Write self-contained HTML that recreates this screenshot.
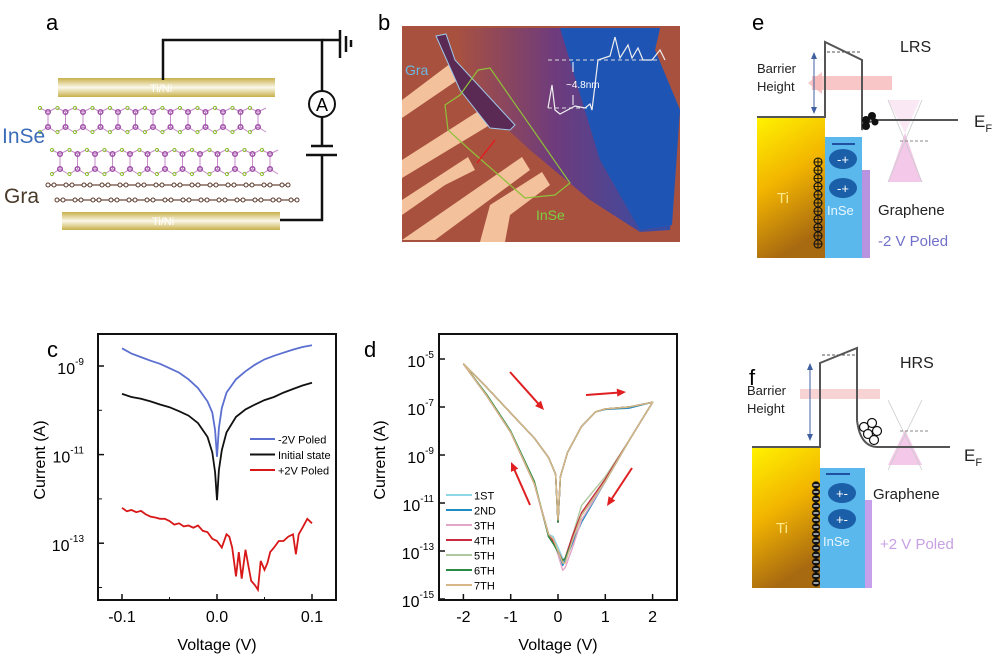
<!DOCTYPE html>
<html><head><meta charset="utf-8"><style>
html,body{margin:0;padding:0;background:#fff}
svg{display:block;font-family:"Liberation Sans",sans-serif}
</style></head><body>
<svg id="fig" width="1000" height="661" viewBox="0 0 1000 661">
<defs>
<linearGradient id="gold" x1="0" y1="0" x2="0" y2="1"><stop offset="0" stop-color="#c8b04a"/><stop offset="0.5" stop-color="#fbf8ea"/><stop offset="1" stop-color="#c8b04a"/></linearGradient>
<linearGradient id="ti" x1="0" y1="0" x2="0.3" y2="1"><stop offset="0" stop-color="#fff200"/><stop offset="0.5" stop-color="#f2b400"/><stop offset="1" stop-color="#a86a10"/></linearGradient>
<linearGradient id="sub" x1="0" y1="0" x2="1" y2="0"><stop offset="0" stop-color="#a9513f"/><stop offset="0.45" stop-color="#6a3a80"/><stop offset="1" stop-color="#2850b0"/></linearGradient>
</defs>

<!-- Panel a -->
<g>
<text x="46" y="30" font-size="22">a</text>
<rect x="58" y="78" width="217" height="19" fill="url(#gold)"/>
<text x="150" y="92" font-size="11" fill="#fff">Ti/Ni</text>
<rect x="62" y="212" width="218" height="18" fill="url(#gold)"/>
<text x="152" y="225" font-size="11" fill="#fff">Ti/Ni</text>
<g id="inse"></g>
<text x="2" y="143" font-size="21" fill="#3c6db8">InSe</text>
<text x="4" y="203" font-size="21" fill="#4a3a2a">Gra</text>
<path d="M163 80 V40 H322 V92 M322 117 V146 M322 155 V220 H280" stroke="#111" stroke-width="2.5" fill="none"/>
<path d="M340 30 V58 M346 36 V52 M351 40 V47" stroke="#111" stroke-width="2.5"/>
<line x1="322" y1="40" x2="340" y2="40" stroke="#111" stroke-width="2.5"/>
<circle cx="322" cy="104" r="13" fill="#fff" stroke="#111" stroke-width="2"/>
<text x="322" y="111" font-size="18" text-anchor="middle">A</text>
<path d="M311 146 H333 M306 155 H337" stroke="#111" stroke-width="2.5"/>
</g>

<!-- Panel b -->
<g>
<text x="378" y="30" font-size="22">b</text>
<rect x="402" y="26" width="278" height="216" fill="#a9513f"/>
<polygon points="455,28 660,28 655,50 680,110 670,230 640,232 590,200 530,150 470,95" fill="url(#sub)" opacity="0.95"/>
<polygon points="560,28 660,28 655,50 680,110 672,225 640,230 600,160" fill="#1e55b5"/>
<g fill="#f3c29c">
<polygon points="402,100 455,60 465,75 402,118"/>
<polygon points="402,160 488,105 498,120 402,178"/>
<polygon points="402,240 435,240 530,170 522,157"/>
<polygon points="480,242 505,242 510,215 550,185 542,172 490,205"/>
<polygon points="402,200 402,215 445,185 475,170 468,157"/>
</g>
<path d="M436 36 L446 34 L455 60 L515 125 L510 130 L490 128 L460 90 Z" fill="#5a2a55" stroke="#9ec8ec" stroke-width="1"/>
<path d="M478 70 L490 68 L570 183 L555 195 L525 198 L470 150 L448 130 L445 105 L460 95 Z" fill="none" stroke="#8fc03a" stroke-width="1.2"/>
<line x1="477" y1="163" x2="495" y2="140" stroke="#e02020" stroke-width="1.5"/>
<text x="405" y="75" font-size="14" fill="#6ab8e0">Gra</text>
<text x="536" y="220" font-size="14" fill="#7ad040">InSe</text>
<path d="M548 60 H660 M548 108 H590" stroke="#ddd" stroke-dasharray="4,3" fill="none"/>
<path d="M548 108 L552 85 L555 110 L560 114 L575 106 L585 108 L590 104 L592 110 L598 60 L610 56 L615 37 L620 58 L628 45 L632 58 L638 48 L643 60 L652 60 L660 50 L665 60" stroke="#eee" stroke-width="1.2" fill="none"/>
<path d="M573 62 V72 M573 95 V105" stroke="#fff" stroke-width="1"/>
<text x="566" y="88" font-size="10" fill="#fff">~4.8nm</text>
</g>

<!-- Panel e -->
<g>
<text x="752" y="30" font-size="22">e</text>
<rect x="757" y="118" width="68" height="140" fill="url(#ti)"/>
<rect x="825" y="137" width="37" height="121" fill="#5bb8ec"/>
<rect x="862" y="170" width="8" height="88" fill="#b894e0"/>
<polygon points="888,100 920,100 905,133" fill="#f8e0f0" opacity="0.7"/>
<polygon points="905,133 888,182 922,182" fill="#f3c8e8"/>
<path d="M888 100 L922 182 M922 100 L888 182" stroke="#ccc" stroke-width="0.8"/>
<line x1="900" y1="141" x2="928" y2="141" stroke="#888" stroke-dasharray="3,2"/>
<rect x="812" y="76" width="80" height="14" fill="#f6b8b8" opacity="0.8"/>
<polygon points="808,83 822,72 822,94" fill="#f6b8b8" opacity="0.8"/>
<path d="M757 117 H825 V42 L862 60 V130 Q866 120 880 120 H958" stroke="#555" stroke-width="2" fill="none"/>
<path d="M827 52 H862" stroke="#555" stroke-dasharray="3,2"/>
<path d="M814 55 V111" stroke="#4060a0" stroke-width="1"/>
<polygon points="814,52 811,59 817,59" fill="#4060a0"/><polygon points="814,114 811,107 817,107" fill="#4060a0"/>
<text x="757" y="73" font-size="13" fill="#222">Barrier</text>
<text x="757" y="91" font-size="13" fill="#222">Height</text>
<text x="900" y="52" font-size="16" fill="#222">LRS</text>
<text x="974" y="127" font-size="17" fill="#222">E<tspan font-size="11" dy="5">F</tspan></text>
<g fill="#111"><circle cx="866" cy="120" r="4"/><circle cx="872" cy="116" r="4"/><circle cx="866" cy="126" r="4"/><circle cx="875" cy="122" r="3.5"/></g>
<line x1="832" y1="144" x2="855" y2="144" stroke="#2050a0" stroke-width="2"/>
<g id="eplus"></g>
<ellipse cx="843" cy="159" rx="14" ry="10" fill="#1a5fa8"/><text x="843" y="164" font-size="13" fill="#fff" text-anchor="middle">-+</text>
<ellipse cx="843" cy="188" rx="14" ry="10" fill="#1a5fa8"/><text x="843" y="193" font-size="13" fill="#fff" text-anchor="middle">-+</text>
<text x="777" y="203" font-size="15" fill="#ffe98a">Ti</text>
<text x="827" y="215" font-size="13" fill="#e8f6ff">InSe</text>
<text x="878" y="215" font-size="15" fill="#222">Graphene</text>
<text x="878" y="246" font-size="15" fill="#7070c8">-2 V Poled</text>
</g>

<!-- Panel f -->
<g>
<text x="749" y="385" font-size="22">f</text>
<rect x="752" y="448" width="68" height="140" fill="url(#ti)"/>
<rect x="820" y="468" width="45" height="120" fill="#5bb8ec"/>
<rect x="865" y="500" width="7" height="88" fill="#c7a0ec"/>
<polygon points="888,465 922,465 905,430" fill="#f3c8e8"/>
<path d="M888 400 L922 470 M922 400 L888 470" stroke="#ccc" stroke-width="0.8"/>
<line x1="900" y1="431" x2="930" y2="431" stroke="#888" stroke-dasharray="3,2"/>
<rect x="800" y="389" width="80" height="10" fill="#f6c8c8" opacity="0.8"/>
<path d="M752 447 H820 V363 L857 348 V420 Q860 447 878 447 H950" stroke="#555" stroke-width="2" fill="none"/>
<path d="M822 355 H857" stroke="#555" stroke-dasharray="3,2"/>
<path d="M810 366 V438" stroke="#4060a0" stroke-width="1"/>
<polygon points="810,363 807,370 813,370" fill="#4060a0"/><polygon points="810,441 807,434 813,434" fill="#4060a0"/>
<text x="747" y="395" font-size="13" fill="#222">Barrier</text>
<text x="747" y="413" font-size="13" fill="#222">Height</text>
<text x="900" y="368" font-size="16" fill="#222">HRS</text>
<text x="964" y="461" font-size="17" fill="#222">E<tspan font-size="11" dy="5">F</tspan></text>
<g fill="#fff" stroke="#111" stroke-width="1.2"><circle cx="864" cy="427" r="4.5"/><circle cx="872" cy="423" r="4.5"/><circle cx="868" cy="434" r="4.5"/><circle cx="877" cy="431" r="4.5"/><circle cx="874" cy="440" r="4.5"/></g>
<line x1="826" y1="474" x2="850" y2="474" stroke="#2050a0" stroke-width="2"/>
<g id="fminus"></g>
<ellipse cx="842" cy="493" rx="14" ry="10" fill="#1a5fa8"/><text x="842" y="498" font-size="13" fill="#fff" text-anchor="middle">+-</text>
<ellipse cx="842" cy="519" rx="14" ry="10" fill="#1a5fa8"/><text x="842" y="524" font-size="13" fill="#fff" text-anchor="middle">+-</text>
<text x="776" y="533" font-size="15" fill="#ffe98a">Ti</text>
<text x="823" y="546" font-size="13" fill="#e8f6ff">InSe</text>
<text x="873" y="499" font-size="15" fill="#222">Graphene</text>
<text x="880" y="549" font-size="15" fill="#c8a0e4">+2 V Poled</text>
</g>

<!-- Panel c -->
<g id="pc">
<text x="47" y="357" font-size="22">c</text>
<text transform="translate(45,460) rotate(-90)" font-size="16" text-anchor="middle">Current (A)</text>
<text x="217" y="650" font-size="16" text-anchor="middle">Voltage (V)</text>
</g>
<!-- Panel d -->
<g id="pd">
<text x="364" y="357" font-size="22">d</text>
<text transform="translate(385,460) rotate(-90)" font-size="16" text-anchor="middle">Current (A)</text>
<text x="558" y="650" font-size="16" text-anchor="middle">Voltage (V)</text>
</g>
</svg>
<script>
// ---- Panel c data (log10 current) ----
const cV = [-0.1,-0.09,-0.08,-0.07,-0.06,-0.05,-0.04,-0.03,-0.02,-0.01,-0.005,-0.002,0,0.002,0.005,0.01,0.02,0.03,0.04,0.05,0.06,0.07,0.08,0.09,0.1];
const cBlue = [-8.6,-8.72,-8.8,-8.88,-8.95,-9.05,-9.15,-9.3,-9.5,-9.8,-10.05,-10.45,-11.05,-10.4,-9.95,-9.6,-9.3,-9.12,-8.97,-8.85,-8.77,-8.7,-8.63,-8.57,-8.53];
const cBlack = [-9.63,-9.7,-9.74,-9.8,-9.87,-9.93,-10.02,-10.12,-10.29,-10.6,-10.95,-11.4,-12.03,-11.35,-10.9,-10.5,-10.15,-9.98,-9.87,-9.77,-9.7,-9.6,-9.52,-9.44,-9.38];
const cRedV = [-0.1,-0.095,-0.09,-0.085,-0.08,-0.075,-0.07,-0.065,-0.06,-0.055,-0.05,-0.045,-0.04,-0.035,-0.03,-0.025,-0.02,-0.015,-0.01,-0.005,0,0.005,0.01,0.013,0.016,0.02,0.023,0.026,0.03,0.033,0.036,0.04,0.043,0.046,0.05,0.053,0.056,0.06,0.065,0.07,0.075,0.08,0.083,0.086,0.09,0.095,0.1];
const cRed = [-12.2,-12.28,-12.25,-12.3,-12.27,-12.35,-12.4,-12.42,-12.45,-12.45,-12.5,-12.58,-12.55,-12.62,-12.6,-12.65,-12.6,-12.72,-12.75,-12.9,-12.95,-13.1,-12.8,-12.85,-13.1,-13.75,-13.2,-13.8,-13.15,-13.5,-13.85,-13.95,-14.05,-13.4,-13.6,-13.45,-13.2,-13.1,-12.95,-12.95,-12.85,-12.8,-13.25,-12.8,-12.65,-12.45,-12.55];
const cYTicks = [-9,-11,-13];
const cXTicks = [-0.1,0,0.1];
const cXTickLabels = ["-0.1","0.0","0.1"];
const cLegend = ["-2V Poled","Initial state","+2V Poled"];
// ---- Panel d data (log10 current), loop: -2 -> 0 -> 2 -> 0 -> -2 ----
const dV = [-2,-1.5,-1,-0.5,-0.2,-0.05,0,0.05,0.2,0.5,0.8,1,1.5,2,1.5,1,0.5,0.3,0.15,0.1,-0.1,-0.2,-0.5,-1,-1.5,-2];
const d1 = [-5.2,-6.2,-7.25,-8.3,-9.1,-9.8,-11.8,-9.9,-8.9,-7.8,-7.2,-7.08,-7.0,-6.8,-8.4,-10.1,-11.5,-12.5,-13.5,-13.3,-12.4,-12.3,-10.2,-8.05,-6.55,-5.2];
const d2 = [-5.2,-6.2,-7.25,-8.3,-9.1,-9.8,-11.8,-9.9,-8.9,-7.8,-7.2,-7.1,-7.05,-6.8,-8.4,-10.1,-11.8,-12.7,-13.4,-13.6,-12.5,-12.3,-10.2,-8.05,-6.55,-5.2];
const d3 = [-5.2,-6.2,-7.25,-8.3,-9.1,-9.8,-11.7,-9.9,-8.9,-7.8,-7.2,-7.08,-7.0,-6.8,-8.4,-10.1,-11.7,-12.9,-13.7,-13.8,-12.5,-12.4,-10.2,-8.05,-6.55,-5.2];
const d4 = [-5.2,-6.2,-7.25,-8.3,-9.1,-9.8,-11.8,-9.9,-8.9,-7.8,-7.2,-7.08,-7.0,-6.8,-8.4,-10.0,-11.4,-12.4,-13.3,-13.4,-12.6,-12.3,-10.2,-8.05,-6.55,-5.2];
const d5 = [-5.2,-6.2,-7.25,-8.3,-9.1,-9.8,-11.8,-9.9,-8.9,-7.8,-7.2,-7.08,-7.0,-6.8,-8.4,-9.9,-11.1,-12.4,-13.4,-13.5,-12.5,-12.3,-10.2,-8.05,-6.55,-5.2];
const d6 = [-5.2,-6.2,-7.25,-8.3,-9.1,-9.8,-11.8,-9.9,-8.9,-7.8,-7.2,-7.08,-7.0,-6.8,-8.4,-10.1,-11.5,-12.6,-13.3,-13.4,-12.7,-12.4,-10.1,-8.0,-6.5,-5.2];
const d7 = [-5.2,-6.2,-7.25,-8.3,-9.1,-9.8,-11.7,-9.9,-8.9,-7.8,-7.2,-7.08,-7.0,-6.8,-8.4,-10.1,-11.5,-12.6,-13.5,-13.5,-12.5,-12.3,-10.2,-8.05,-6.55,-5.2];
const dLegend = ["1ST","2ND","3TH","4TH","5TH","6TH","7TH"];
const dYTicks = [-5,-7,-9,-11,-13,-15];
const dXTicks = [-2,-1,0,1,2];

const NS = "http://www.w3.org/2000/svg";
function mk(tag, attrs, parent){const e=document.createElementNS(NS,tag);for(const k in attrs)e.setAttribute(k,attrs[k]);parent.appendChild(e);return e;}

// Panel c
const pc = document.getElementById('pc');
const cx = v => 217 + v*950;
const cy = l => 366 + (-9 - l)*44.3;
let frame = mk('rect',{x:98,y:334,width:238,height:266,fill:'none',stroke:'#111','stroke-width':2},pc);


cXTicks.forEach((t,i)=>{
  mk('line',{x1:cx(t),y1:600,x2:cx(t),y2:594,stroke:'#111','stroke-width':1.5},pc);
  const tx = mk('text',{x:cx(t),y:622,'font-size':16,'text-anchor':'middle'},pc);
  tx.textContent = cXTickLabels[i];
  
  
});
[-0.05,0.05].forEach(t=>mk('line',{x1:cx(t),y1:600,x2:cx(t),y2:597,stroke:'#111'},pc));
cYTicks.forEach(t=>{
  mk('line',{x1:98,y1:cy(t),x2:104,y2:cy(t),stroke:'#111','stroke-width':1.5},pc);
  const tx = mk('text',{x:84,y:cy(t)+8,'font-size':16,'text-anchor':'end'},pc);
  tx.innerHTML = '10<tspan font-size="10" dy="-9">'+t+'</tspan>';
  
  
});
[-10,-12,-14].forEach(t=>mk('line',{x1:98,y1:cy(t),x2:102,y2:cy(t),stroke:'#111'},pc));
function cline(xs, ys, color, name){
  const d = xs.map((v,i)=>(i?'L':'M')+cx(v).toFixed(1)+' '+cy(ys[i]).toFixed(1)).join(' ');
  const p = mk('path',{d:d,fill:'none',stroke:color,'stroke-width':1.8},pc);
  
  
}
cline(cV,cBlue,'#5b6fd0','series-minus2v-poled');
cline(cV,cBlack,'#111','series-initial-state');
cline(cRedV,cRed,'#d81818','series-plus2v-poled');
const cCols = ['#5b6fd0','#111','#d81818'];
cLegend.forEach((n,i)=>{
  const y = 439 + i*15.5;
  mk('line',{x1:250,y1:y,x2:275,y2:y,stroke:cCols[i],'stroke-width':2},pc);
  const tx = mk('text',{x:278,y:y+4.5,'font-size':11},pc);
  tx.textContent = n;
  
  
});

// Panel d
const pd = document.getElementById('pd');
const dx = v => 558 + v*47.3;
const dy = l => 359 + (-5 - l)*24;
let fr2 = mk('rect',{x:439,y:334,width:238,height:266,fill:'none',stroke:'#111','stroke-width':2},pd);


dXTicks.forEach(t=>{
  mk('line',{x1:dx(t),y1:600,x2:dx(t),y2:594,stroke:'#111','stroke-width':1.5},pd);
  const tx = mk('text',{x:dx(t),y:622,'font-size':16,'text-anchor':'middle'},pd);
  tx.textContent = String(t);
  
  
});
dYTicks.forEach(t=>{
  mk('line',{x1:439,y1:dy(t),x2:445,y2:dy(t),stroke:'#111','stroke-width':1.5},pd);
  const tx = mk('text',{x:434,y:dy(t)+8,'font-size':16,'text-anchor':'end'},pd);
  tx.innerHTML = '10<tspan font-size="10" dy="-9">'+t+'</tspan>';
  
  
});
const dSeries = [d1,d2,d3,d4,d5,d6,d7];
const dCols = ['#8fd6e6','#1f8cc4','#e4a6c8','#c82a40','#b0c8a0','#2a8a44','#d8b888'];
[4,0,1,2,3,5,6].forEach(i=>{
  const d = dV.map((v,j)=>(j?'L':'M')+dx(v).toFixed(1)+' '+dy(dSeries[i][j]).toFixed(1)).join(' ');
  const p = mk('path',{d:d,fill:'none',stroke:dCols[i],'stroke-width':1.4,'stroke-linejoin':'round'},pd);
  
  
});
dLegend.forEach((n,i)=>{
  const y = 495 + i*15;
  mk('line',{x1:446,y1:y,x2:472,y2:y,stroke:dCols[i],'stroke-width':2},pd);
  const tx = mk('text',{x:474,y:y+4.5,'font-size':11},pd);
  tx.textContent = n;
  
  
});
[[510,372,544,410],[586,395,626,392],[530,505,511,462],[632,468,607,506]].forEach(a=>{
  const ang = Math.atan2(a[3]-a[1],a[2]-a[0]);
  mk('line',{x1:a[0],y1:a[1],x2:a[2]-6*Math.cos(ang),y2:a[3]-6*Math.sin(ang),stroke:'#e02020','stroke-width':2},pd);
  const h = mk('polygon',{points:[a[2],a[3],a[2]-9*Math.cos(ang)+4*Math.sin(ang),a[3]-9*Math.sin(ang)-4*Math.cos(ang),a[2]-9*Math.cos(ang)-4*Math.sin(ang),a[3]-9*Math.sin(ang)+4*Math.cos(ang)].join(','),fill:'#e02020'},pd);
  
  
});

// decorations: lattice and charges
const lat = document.getElementById('inse');
[[108,48],[150,60]].forEach(r=>{
  const y0 = r[0];
  for(let k=0;k<13;k++){
    const x = r[1]+k*17.5;
    mk('path',{d:`M${x-8} ${y0} L${x} ${y0+4} L${x+8} ${y0} M${x} ${y0+4} V${y0+19} M${x-8} ${y0+24} L${x} ${y0+19} L${x+8} ${y0+24}`,stroke:'#c58ac8','stroke-width':1,fill:'none'},lat);
    mk('circle',{cx:x,cy:y0+4,r:2.3,fill:'none',stroke:'#a050a8','stroke-width':1.5},lat);
    mk('circle',{cx:x,cy:y0+19,r:2.3,fill:'none',stroke:'#a050a8','stroke-width':1.5},lat);
    mk('circle',{cx:x-8,cy:y0,r:1.6,fill:'none',stroke:'#8cc030'},lat);
    mk('circle',{cx:x-8,cy:y0+24,r:1.6,fill:'none',stroke:'#8cc030'},lat);
  }
});
[[185,48,290],[200,57,295]].forEach(r=>{
  mk('line',{x1:r[1],y1:r[0],x2:r[2],y2:r[0],stroke:'#6a4a3a','stroke-width':1.2},lat);
  for(let x=r[1];x<r[2];x+=18){mk('circle',{cx:x,cy:r[0],r:2,fill:'#fff',stroke:'#5a3a2a'},lat);mk('circle',{cx:x+6,cy:r[0],r:2,fill:'#fff',stroke:'#5a3a2a'},lat);}
});
const ep = document.getElementById('eplus');
for(let y=162;y<=252;y+=8.2){mk('circle',{cx:818,cy:y,r:4,fill:'none',stroke:'#111','stroke-width':1.1},ep);mk('path',{d:`M814 ${y} H822 M818 ${y-4} V${y+4}`,stroke:'#111','stroke-width':0.9},ep);}
const fm = document.getElementById('fminus');
for(let y=485;y<=584;y+=7){mk('ellipse',{cx:816,cy:y,rx:4,ry:3.6,fill:'#111'},fm);mk('line',{x1:813.5,y1:y,x2:818.5,y2:y,stroke:'#fff','stroke-width':1.2},fm);}
</script>
</body></html>
